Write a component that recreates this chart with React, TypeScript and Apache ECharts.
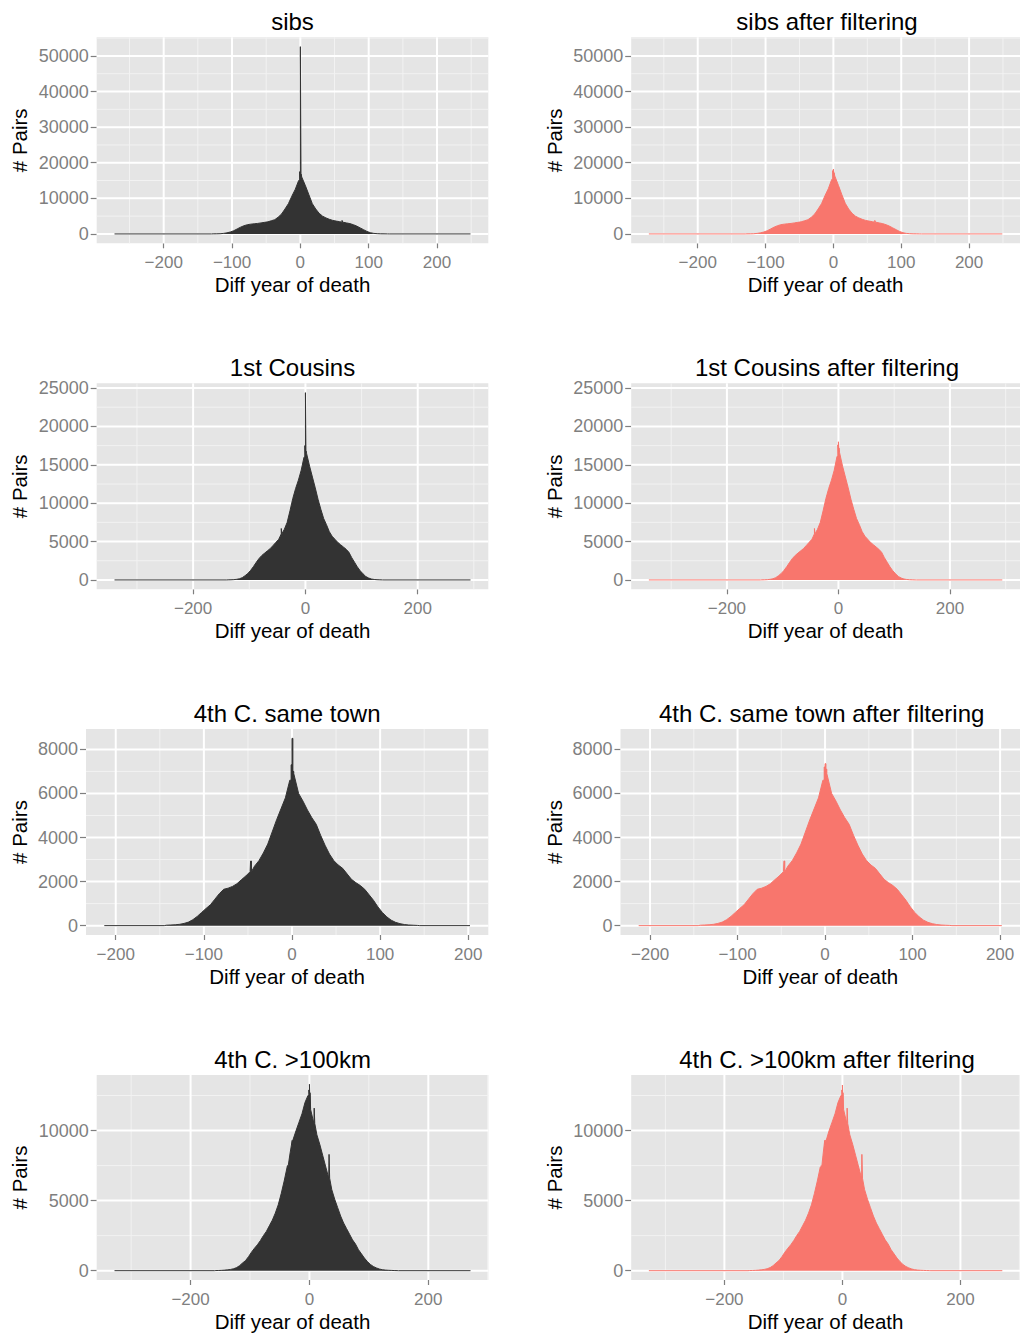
import React, { useEffect, useRef } from 'react';
import * as echarts from 'echarts';

const FONT = '"Liberation Sans", Arial, Helvetica, sans-serif';
const RAW = '#333333';
const FILTERED = '#F8766D';
const BIN = 5; // width (years) of the histogram bins listed below

// ---- sibs -------------------------------------------------------------
const sibsFrom = -130;
const sibsCounts = [
  20, 30, 60, 150, 300, 550, 900, 1400, 1900, 2300, 2600, 2750, 2850, 2950, 3100, 3250,
  3400, 3700, 4000, 4700, 5600, 7000, 8500, 10600, 12500, 15000, 16000, 13500, 11000, 8500,
  7000, 5800, 5000, 4500, 4100, 3800, 3600, 3450, 3300, 3100, 2900, 2600, 2200, 1700, 1200,
  700, 350, 150, 70, 30, 20, 10,
];
const sibsSingles: [number, number][] = [[-1, 17500], [0, 52600], [1, 16800], [61, 3800]];
const sibsFilteredCounts = [
  20, 30, 60, 150, 300, 550, 900, 1400, 1900, 2300, 2600, 2750, 2850, 2950, 3100, 3250,
  3400, 3700, 4000, 4700, 5600, 7000, 8500, 10700, 12700, 15300, 16300, 13600, 11000, 8600,
  7000, 5800, 5000, 4500, 4100, 3800, 3600, 3450, 3300, 3100, 2900, 2600, 2200, 1700, 1200,
  700, 350, 150, 70, 30, 20, 10,
];
const sibsFilteredSingles: [number, number][] = [[-1, 17800], [0, 18200], [1, 17200], [61, 3800]];
const sibsExtent = [-272, 249];

// ---- 1st cousins ------------------------------------------------------
const cousinsFrom = -140;
const cousinsCounts = [
  10, 20, 40, 80, 150, 300, 550, 850, 1250, 1750, 2300, 2800, 3200, 3500, 3800, 4100,
  4500, 4900, 5300, 6000, 6600, 7500, 9000, 10600, 11900, 13000, 14300, 16000, 16500, 14800,
  13400, 12000, 10500, 9200, 8000, 7200, 6300, 5700, 5300, 4900, 4600, 4300, 4000, 3600,
  2900, 2300, 1700, 1200, 800, 450, 250, 120, 60, 30, 15, 5,
];
const cousinsSingles: [number, number][] = [[-43, 6700], [-1, 17500], [0, 24400], [1, 16800]];
const cousinsFilteredCounts = [
  10, 20, 40, 80, 150, 300, 550, 850, 1250, 1750, 2300, 2800, 3200, 3500, 3800, 4100,
  4500, 4900, 5300, 6000, 6600, 7500, 9000, 10600, 11900, 13000, 14300, 16100, 16600, 14800,
  13400, 12000, 10500, 9200, 8000, 7200, 6300, 5700, 5300, 4900, 4600, 4300, 4000, 3600,
  2900, 2300, 1700, 1200, 800, 450, 250, 120, 60, 30, 15, 5,
];
const cousinsFilteredSingles: [number, number][] = [[-43, 6700], [-1, 17600], [0, 18000], [1, 17200]];
const cousinsExtent = [-340, 294];

// ---- 4th cousins, same town -------------------------------------------
const townFrom = -145;
const townCounts = [
  20, 30, 40, 60, 100, 160, 270, 420, 600, 780, 950, 1200, 1450, 1650, 1700, 1780,
  1900, 2080, 2250, 2450, 2700, 2950, 3300, 3700, 4250, 4800, 5300, 5800, 6600, 6900,
  6000, 5650, 5250, 4900, 4600, 4100, 3650, 3250, 2950, 2750, 2600, 2350, 2100, 1950,
  1820, 1650, 1400, 1150, 850, 600, 400, 250, 150, 90, 50, 30, 20, 10,
];
const townSingles: [number, number][] = [[-47, 2930], [-1, 7300], [0, 8500], [1, 7000]];
const townFilteredCounts = [
  20, 30, 40, 60, 100, 160, 270, 420, 600, 780, 950, 1200, 1450, 1650, 1700, 1780,
  1900, 2080, 2250, 2450, 2700, 2950, 3300, 3700, 4250, 4800, 5300, 5800, 6600, 6900,
  6000, 5650, 5250, 4900, 4600, 4100, 3650, 3250, 2950, 2750, 2600, 2350, 2100, 1950,
  1820, 1650, 1400, 1150, 850, 600, 400, 250, 150, 90, 50, 30, 20, 10,
];
const townFilteredSingles: [number, number][] = [[-47, 2930], [-1, 7200], [0, 7350], [1, 7100]];
const townExtent = [-213, 202];

// ---- 4th cousins, more than 100 km apart -------------------------------
const farFrom = -160;
const farCounts = [
  10, 15, 25, 40, 60, 90, 140, 220, 360, 550, 720, 1000, 1320, 1600, 1850, 2150,
  2500, 2800, 3200, 3600, 4100, 4700, 5500, 6400, 7400, 8400, 9300, 10000, 10600, 11200,
  12000, 12500, 11500, 10500, 9700, 9000, 8200, 7400, 6600, 5800, 5100, 4500, 3900, 3400,
  3000, 2600, 2200, 1900, 1500, 1200, 900, 650, 450, 300, 200, 120, 70, 45, 30, 20, 10, 5,
];
const farSingles: [number, number][] = [
  [-37, 7500], [-29, 9000], [-1, 12900], [0, 13300], [1, 12700], [8, 11600], [33, 8300],
];
const farFilteredCounts = [
  10, 15, 25, 40, 60, 90, 140, 220, 360, 550, 720, 1000, 1320, 1600, 1850, 2150,
  2500, 2800, 3200, 3600, 4100, 4700, 5500, 6400, 7400, 8400, 9300, 10000, 10600, 11200,
  12000, 12500, 11500, 10500, 9700, 9000, 8200, 7400, 6600, 5800, 5100, 4500, 3900, 3400,
  3000, 2600, 2200, 1900, 1500, 1200, 900, 650, 450, 300, 200, 120, 70, 45, 30, 20, 10, 5,
];
const farFilteredSingles: [number, number][] = [
  [-36, 7500], [-30, 9000], [-1, 12900], [0, 13250], [1, 12700], [8, 11600], [33, 8300],
];
const farExtent = [-328, 271];

// ---- axis breaks per row ----------------------------------------------
const xBreaksByRow = [
  [-200, -100, 0, 100, 200],
  [-200, 0, 200],
  [-200, -100, 0, 100, 200],
  [-200, 0, 200],
];
const yBreaksByRow = [
  [0, 10000, 20000, 30000, 40000, 50000],
  [0, 5000, 10000, 15000, 20000, 25000],
  [0, 2000, 4000, 6000, 8000],
  [0, 5000, 10000],
];

const X_TITLE = 'Diff year of death';
const Y_TITLE = '# Pairs';

type Panel = {
  title: string;
  from: number;
  counts: number[];
  singles: [number, number][];
  extent: number[];
  color: string;
  row: number;
  col: number;
};

const panels: Panel[] = [
  { title: 'sibs', from: sibsFrom, counts: sibsCounts, singles: sibsSingles, extent: sibsExtent, color: RAW, row: 0, col: 0 },
  { title: 'sibs after filtering', from: sibsFrom, counts: sibsFilteredCounts, singles: sibsFilteredSingles, extent: sibsExtent, color: FILTERED, row: 0, col: 1 },
  { title: '1st Cousins', from: cousinsFrom, counts: cousinsCounts, singles: cousinsSingles, extent: cousinsExtent, color: RAW, row: 1, col: 0 },
  { title: '1st Cousins after filtering', from: cousinsFrom, counts: cousinsFilteredCounts, singles: cousinsFilteredSingles, extent: cousinsExtent, color: FILTERED, row: 1, col: 1 },
  { title: '4th C. same town', from: townFrom, counts: townCounts, singles: townSingles, extent: townExtent, color: RAW, row: 2, col: 0 },
  { title: '4th C. same town after filtering', from: townFrom, counts: townFilteredCounts, singles: townFilteredSingles, extent: townExtent, color: FILTERED, row: 2, col: 1 },
  { title: '4th C. >100km', from: farFrom, counts: farCounts, singles: farSingles, extent: farExtent, color: RAW, row: 3, col: 0 },
  { title: '4th C. >100km after filtering', from: farFrom, counts: farFilteredCounts, singles: farFilteredSingles, extent: farExtent, color: FILTERED, row: 3, col: 1 },
];

// ---- layout -------------------------------------------------------------
const ROW_TOP = [37.3, 383.3, 729, 1075];
const PLOT_H = 206;
const PLOT_LEFT = [96.7, 96.7, 86, 96.7];
const PLOT_RIGHT = 488.3;
const COL_SHIFT = 534.5;

// Outline of a histogram: 5-year bins placed at their centres, with the
// single years that stand out drawn as one-year-wide columns.
function histogramOutline(p: Panel): [number, number][] {
  const pts: [number, number][] = [[p.extent[0], 0], [p.from, 0]];
  p.counts.forEach((c, i) => {
    const s = p.from + i * BIN;
    const e = s + BIN;
    const centre = s + BIN / 2;
    const inside = p.singles.filter(([y]) => y >= s && y < e);
    const covered = inside.some(([y]) => y <= centre && y + 1 >= centre);
    const items = inside.map(([y, v]) => ({ x: y, v, single: true }));
    if (!covered) items.push({ x: centre, v: c, single: false });
    items.sort((a, b) => a.x - b.x);
    for (const it of items) {
      if (it.single) {
        pts.push([it.x, c], [it.x, it.v], [it.x + 1, it.v], [it.x + 1, c]);
      } else {
        pts.push([it.x, c]);
      }
    }
  });
  pts.push([p.from + p.counts.length * BIN, 0]);
  pts.push([p.extent[1], 0]);
  return pts;
}

function minorBreaks(br: number[], lo: number, hi: number): number[] {
  const step = br[1] - br[0];
  const out: number[] = [];
  for (let v = br[0] - step / 2; v <= br[br.length - 1] + step / 2 + 1e-9; v += step) {
    if (v > lo && v < hi) out.push(v);
  }
  return out;
}

const signed = (v: number) => (v < 0 ? '\u2212' + Math.abs(v) : String(v));

function buildOption() {
  const rowMax = [0, 1, 2, 3].map((r) =>
    Math.max(
      ...panels
        .filter((p) => p.row === r)
        .flatMap((p) => [...p.counts, ...p.singles.map((s) => s[1])])
    )
  );

  const grid: any[] = [];
  const xAxis: any[] = [];
  const yAxis: any[] = [];
  const series: any[] = [];
  const title: any[] = [];

  panels.forEach((p, i) => {
    const left = PLOT_LEFT[p.row] + p.col * COL_SHIFT;
    const width = PLOT_RIGHT - PLOT_LEFT[p.row];
    const top = ROW_TOP[p.row];

    const xPad = 0.05 * (p.extent[1] - p.extent[0]);
    const xMin = p.extent[0] - xPad;
    const xMax = p.extent[1] + xPad;
    const yPad = 0.05 * rowMax[p.row];
    const yMin = -yPad;
    const yMax = rowMax[p.row] + yPad;

    const xb = xBreaksByRow[p.row];
    const yb = yBreaksByRow[p.row];

    grid.push({
      left,
      top,
      width,
      height: PLOT_H,
      show: true,
      backgroundColor: '#E5E5E5',
      borderWidth: 0,
    });

    title.push({
      text: p.title,
      left: left + width / 2,
      top: top - 28,
      textAlign: 'center',
      padding: 0,
      textStyle: { fontFamily: FONT, fontSize: 24, fontWeight: 'normal', color: '#000000' },
    });

    xAxis.push({
      type: 'value',
      gridIndex: i,
      min: xMin,
      max: xMax,
      axisLine: { show: false, onZero: false },
      axisTick: { show: true, length: 5, customValues: xb, lineStyle: { color: '#7F7F7F', width: 1.2 } },
      axisLabel: {
        customValues: xb,
        formatter: (v: number) => signed(v),
        color: '#7F7F7F',
        fontFamily: FONT,
        fontSize: 17,
        margin: 11,
      },
      splitLine: { show: false },
      name: X_TITLE,
      nameLocation: 'middle',
      nameGap: 31,
      nameTextStyle: { fontFamily: FONT, fontSize: 20.5, color: '#000000' },
    });

    yAxis.push({
      type: 'value',
      gridIndex: i,
      min: yMin,
      max: yMax,
      axisLine: { show: false, onZero: false },
      axisTick: { show: true, length: 6, customValues: yb, lineStyle: { color: '#7F7F7F', width: 1.2 } },
      axisLabel: {
        customValues: yb,
        formatter: (v: number) => String(v),
        color: '#7F7F7F',
        fontFamily: FONT,
        fontSize: 18,
        margin: 8,
      },
      splitLine: { show: false },
      name: Y_TITLE,
      nameLocation: 'middle',
      nameGap: left - p.col * COL_SHIFT - 30,
      nameTextStyle: { fontFamily: FONT, fontSize: 20.5, color: '#000000' },
    });

    // background grid lines: [direction (0 vertical, 1 horizontal), value, major flag]
    const lines: number[][] = [];
    minorBreaks(xb, xMin, xMax).forEach((v) => lines.push([0, v, 0]));
    minorBreaks(yb, yMin, yMax).forEach((v) => lines.push([1, v, 0]));
    xb.filter((v) => v > xMin && v < xMax).forEach((v) => lines.push([0, v, 1]));
    yb.filter((v) => v > yMin && v < yMax).forEach((v) => lines.push([1, v, 1]));

    series.push({
      type: 'custom',
      xAxisIndex: i,
      yAxisIndex: i,
      silent: true,
      z: 1,
      data: lines,
      renderItem: (params: any, api: any) => {
        const dir = api.value(0);
        const v = api.value(1);
        const major = api.value(2) === 1;
        const cs = params.coordSys;
        let shape;
        if (dir === 0) {
          const x = api.coord([v, 0])[0];
          shape = { x1: x, y1: cs.y, x2: x, y2: cs.y + cs.height };
        } else {
          const y = api.coord([0, v])[1];
          shape = { x1: cs.x, y1: y, x2: cs.x + cs.width, y2: y };
        }
        return {
          type: 'line',
          shape,
          style: { stroke: major ? '#FFFFFF' : '#F2F2F2', lineWidth: major ? 2 : 1 },
        };
      },
    });

    series.push({
      type: 'line',
      name: p.title,
      xAxisIndex: i,
      yAxisIndex: i,
      data: histogramOutline(p),
      showSymbol: false,
      symbol: 'none',
      silent: true,
      z: 3,
      lineStyle: { color: p.color, width: 1 },
      areaStyle: { color: p.color, opacity: 1 },
    });
  });

  return {
    animation: false,
    backgroundColor: '#FFFFFF',
    title,
    grid,
    xAxis,
    yAxis,
    series,
  };
}

export default function App() {
  const ref = useRef<HTMLDivElement>(null);

  useEffect(() => {
    document.body.style.margin = '0';
    if (!ref.current) return;
    const chart = echarts.init(ref.current, null, { renderer: 'svg' });
    chart.setOption(buildOption() as any);
    return () => chart.dispose();
  }, []);

  return <div ref={ref} style={{ width: 1020, height: 1333 }} />;
}
